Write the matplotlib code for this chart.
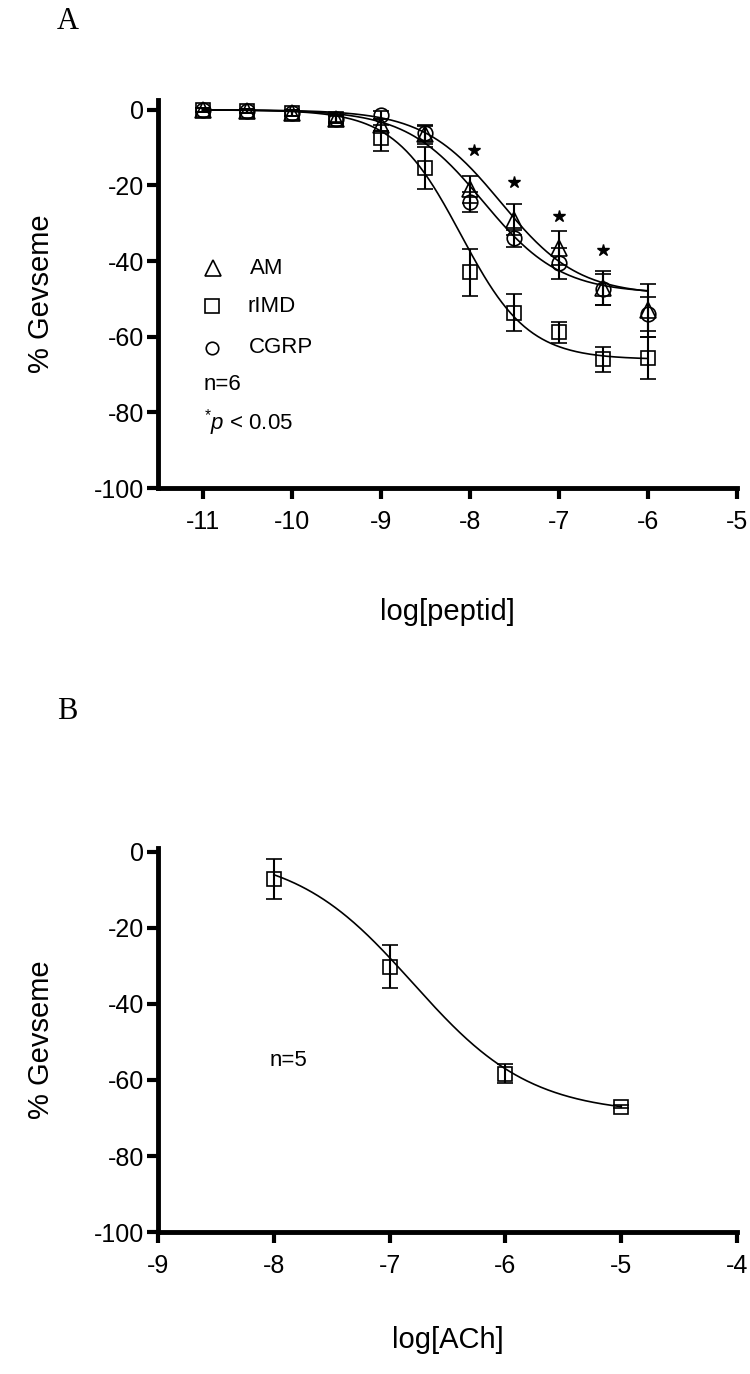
import numpy as np
import matplotlib
matplotlib.use('Agg')
import matplotlib.pyplot as plt

plt.rcParams['font.family'] = ['Liberation Sans', 'DejaVu Sans']
plt.rcParams['mathtext.fontset'] = 'custom'
plt.rcParams['mathtext.rm'] = 'Liberation Sans'
plt.rcParams['mathtext.it'] = 'Liberation Sans:italic'
plt.rcParams['axes.unicode_minus'] = False

# panel A: log concentration of peptide
log_pep = [-11, -10.5, -10, -9.5, -9, -8.5, -8, -7.5, -7, -6.5, -6]
am_mean = [0, -0.3, -0.8, -2.5, -4, -6.5, -21, -29, -36.6, -47, -53]
am_sem = [0.5, 0.5, 0.8, 1, 1.5, 2.5, 3.5, 4, 4.5, 4.5, 7]
rimd_mean = [0, -0.3, -0.8, -2.4, -7.5, -15.4, -43, -53.6, -58.8, -65.9, -65.6]
rimd_sem = [0.5, 0.5, 0.8, 1, 3.5, 5.6, 6.3, 4.8, 2.8, 3.3, 5.5]
cgrp_mean = [0, -0.3, -0.8, -2.3, -1.3, -6.2, -24.3, -34, -40.6, -47.5, -54]
cgrp_sem = [0.5, 0.5, 0.8, 1, 1, 2, 2.7, 2.3, 4, 4.2, 4.5]
star_x = [-7.95, -7.5, -7.0, -6.5]
star_y = [-10.6, -19.2, -28, -37]

# sigmoid fit params: bottom, logEC50, hill
fit_am = (-49, -7.65, 1.0)
fit_rimd = (-66, -8.1, 1.15)
fit_cgrp = (-48.5, -7.85, 1.0)

# panel B: ACh
log_ach = [-8, -7, -6, -5]
ach_mean = [-7.2, -30.2, -58.4, -67]
ach_sem = [5.2, 5.7, 2.5, 0.5]
fit_ach = (-69, -6.8, 0.85)


def sigmoid(x, p):
    bottom, ec50, hill = p
    return bottom / (1 + 10 ** (hill * (ec50 - x)))


def style_axes(ax):
    for s in ['top', 'right']:
        ax.spines[s].set_visible(False)
    for s in ['left', 'bottom']:
        ax.spines[s].set_linewidth(3.5)
    ax.tick_params(width=3, length=8, labelsize=18)
    ax.tick_params(axis='x', pad=8)
    ax.tick_params(axis='y', pad=2)
    ax.set_yticks([0, -20, -40, -60, -80, -100])


fig = plt.figure(figsize=(7.5, 13.74), dpi=100)

# ---- A ----
ax = fig.add_axes([0.2107, 0.6448, 0.772, 0.2824])
style_axes(ax)
ax.set_xlim(-11.5, -5)
ax.set_ylim(-100, 2.6)
ax.set_xticks([-11, -10, -9, -8, -7, -6, -5])

xs = np.linspace(-11, -6, 300)
for p in [fit_am, fit_rimd, fit_cgrp]:
    ax.plot(xs, sigmoid(xs, p), color='k', lw=1.2)

mk = dict(color='k', mfc='none', mec='k', mew=1.2, ls='none',
          capsize=6, elinewidth=1.5, capthick=1.5)
ax.errorbar(log_pep, am_mean, yerr=am_sem, marker='^', ms=11, **mk)
ax.errorbar(log_pep, rimd_mean, yerr=rimd_sem, marker='s', ms=10.5, **mk)
ax.errorbar(log_pep, cgrp_mean, yerr=cgrp_sem, marker='o', ms=10.5, **mk)
ax.plot(star_x, star_y, '*', color='k', ms=9)

# legend drawn by hand
tr = ax.transAxes
ax.plot([0.095], [0.567], '^', mfc='none', mec='k', mew=1.2, ms=11, transform=tr)
ax.plot([0.093], [0.469], 's', mfc='none', mec='k', mew=1.2, ms=10.5, transform=tr)
ax.plot([0.093], [0.361], 'o', mfc='none', mec='k', mew=1.2, ms=9, transform=tr)
ax.text(0.159, 0.567, 'AM', transform=tr, fontsize=16, va='center')
ax.text(0.155, 0.469, 'rIMD', transform=tr, fontsize=16, va='center')
ax.text(0.157, 0.361, 'CGRP', transform=tr, fontsize=16, va='center')
ax.text(0.079, 0.268, 'n=6', transform=tr, fontsize=16, va='center')
ax.text(0.079, 0.168, r'${}^{*}\mathit{p}$ < 0.05', transform=tr, fontsize=16, va='center')

ax.set_xlabel('log[peptid]', fontsize=21, labelpad=46)
ax.set_ylabel('% Gevseme', fontsize=21, labelpad=28)
fig.text(0.09, 0.984, 'A', fontsize=22, family='Liberation Serif', ha='center', va='center')

# ---- B ----
ax = fig.add_axes([0.2107, 0.1033, 0.772, 0.2795])
style_axes(ax)
ax.set_xlim(-9, -4)
ax.set_ylim(-100, 1)
ax.set_xticks([-9, -8, -7, -6, -5, -4])

xs = np.linspace(-8, -5, 300)
ax.plot(xs, sigmoid(xs, fit_ach), color='k', lw=1.2)
ax.errorbar(log_ach, ach_mean, yerr=ach_sem, marker='s', ms=10.5, **mk)
ax.text(0.193, 0.448, 'n=5', transform=ax.transAxes, fontsize=16, va='center')

ax.set_xlabel('log[ACh]', fontsize=21, labelpad=34)
ax.set_ylabel('% Gevseme', fontsize=21, labelpad=28)
fig.text(0.09, 0.482, 'B', fontsize=22, family='Liberation Serif', ha='center', va='center')

fig.savefig('out.png', dpi=100)
